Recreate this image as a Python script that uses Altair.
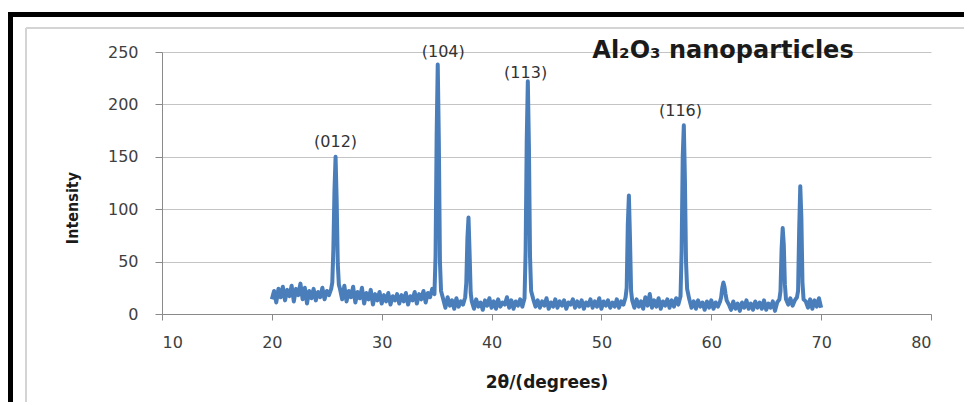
import altair as alt
import pandas as pd

# ---- data (2theta in degrees, intensity in counts) ----
# background segments: (start, step, values)
bg_20_254 = [14, 22, 11, 24, 16, 26, 13, 23, 17, 27, 12, 24, 18, 29, 14, 25, 10, 22, 15, 24,
             13, 21, 16, 25, 14, 22, 18, 24]
pk_012 = [30, 62, 118, 150, 108, 48, 28]
bg_262_348 = [24, 14, 27, 12, 22, 16, 26, 11, 21, 15, 25, 10, 20, 14, 23, 9, 19, 13, 21, 10,
              18, 12, 20, 9, 17, 13, 19, 10, 18, 12, 20, 9, 17, 13, 21, 10, 19, 14, 22, 11,
              20, 16, 24, 19]
pk_104 = [55, 170, 238, 165, 50, 22]
bg_356_376 = [14, 6, 16, 8, 13, 5, 15, 7, 12, 9, 16]
pk_110 = [30, 72, 92, 58, 20]
bg_382_430 = [12, 5, 14, 7, 11, 4, 13, 8, 15, 6, 12, 5, 14, 7, 11, 9, 16, 6, 13, 5, 12, 8, 14, 7, 15]
pk_113 = [60, 165, 222, 160, 55, 22]
bg_438_522 = [14, 7, 13, 6, 12, 8, 15, 5, 11, 7, 14, 6, 12, 8, 13, 5, 11, 9, 14, 6,
              12, 7, 13, 5, 11, 8, 14, 6, 12, 7, 15, 5, 12, 8, 13, 6, 11, 7, 14, 6, 12, 9, 16]
pk_024 = [25, 85, 113, 72, 22]
bg_528_572 = [13, 6, 14, 7, 12, 5, 16, 8, 19, 6, 13, 7, 15, 5, 12, 8, 14, 6, 13, 7, 15, 9, 17]
pk_116 = [60, 150, 180, 128, 50, 24]
bg_580_608 = [14, 6, 12, 5, 13, 7, 11, 4, 12, 6, 13, 5, 11, 7, 12]
pk_018 = [16, 25, 30, 26, 19, 13]
bg_616_662 = [9, 4, 12, 5, 10, 3, 11, 6, 13, 5, 10, 4, 12, 6, 11, 5, 13, 4, 10, 6, 12, 3, 11, 14]
pk_214 = [22, 62, 82, 66, 28, 14]
bg_670_678 = [9, 15, 8, 13, 16]
pk_300 = [22, 80, 122, 92, 30, 14]
bg_686_700 = [12, 6, 14, 5, 13, 7, 15, 6]

segments = [
    (20.0, 0.2, bg_20_254), (25.5, 0.1, pk_012), (26.2, 0.2, bg_262_348),
    (34.9, 0.1, pk_104), (35.6, 0.2, bg_356_376), (37.7, 0.1, pk_110),
    (38.2, 0.2, bg_382_430), (43.1, 0.1, pk_113), (43.8, 0.2, bg_438_522),
    (52.3, 0.1, pk_024), (52.8, 0.2, bg_528_572), (57.3, 0.1, pk_116),
    (58.0, 0.2, bg_580_608), (60.9, 0.1, pk_018), (61.6, 0.2, bg_616_662),
    (66.3, 0.1, pk_214), (67.0, 0.2, bg_670_678), (67.9, 0.1, pk_300),
    (68.6, 0.2, bg_686_700),
]

peak_labels = ["(012)", "(104)", "(113)", "(116)"]
label_x = [25.8, 35.6, 43.1, 57.2]
label_y = [164, 250, 230, 194]

x_ticks = [10, 20, 30, 40, 50, 60, 70, 80]
y_ticks = [0, 50, 100, 150, 200, 250]

rows = []
for start, step, vals in segments:
    for i, v in enumerate(vals):
        rows.append({"two_theta": round(start + i * step, 2), "intensity": v})
df = pd.DataFrame(rows)

lab_df = pd.DataFrame({"label": peak_labels, "x": label_x, "y": label_y})
one = pd.DataFrame({"a": [0]})

W, H = 769, 262
xs = alt.Scale(domain=[10, 80], nice=False, zero=False)
ys = alt.Scale(domain=[0, 250], nice=False)

line = alt.Chart(df).mark_line(color="#4a7ebb", strokeWidth=4, strokeJoin="round").encode(
    x=alt.X("two_theta:Q", scale=xs,
            axis=alt.Axis(values=x_ticks, grid=False, title="2θ/(degrees)",
                          tickSize=6, tickColor="#8a8a8a", domainColor="#8a8a8a",
                          labelFont="DejaVu Sans", labelFontSize=16, labelColor="#404040",
                          labelPadding=14,
                          titleFont="DejaVu Sans", titleFontSize=17, titleFontWeight="bold",
                          titleColor="#1a1a1a", titlePadding=24)),
    y=alt.Y("intensity:Q", scale=ys,
            axis=alt.Axis(values=y_ticks, grid=True, gridColor="#c4c4c4", title=None,
                          tickSize=7, tickColor="#8a8a8a", domainColor="#8a8a8a",
                          labelFont="DejaVu Sans", labelFontSize=16, labelColor="#404040",
                          labelPadding=17)),
)

labels = alt.Chart(lab_df).mark_text(font="DejaVu Sans", fontSize=16, color="#333333",
                                     baseline="middle").encode(
    x=alt.X("x:Q", scale=xs), y=alt.Y("y:Q", scale=ys), text="label:N")

title = alt.Chart(one).mark_text(text="Al₂O₃ nanoparticles", font="DejaVu Sans",
                                 fontSize=24, fontWeight="bold", color="#1a1a1a",
                                 baseline="alphabetic", align="center").encode(
    x=alt.value(561), y=alt.value(6))

ytitle = alt.Chart(one).mark_text(text="Intensity",
                                  font="DejaVu Sans Condensed",
                                  fontSize=16, fontWeight="bold", color="#1a1a1a", angle=270,
                                  baseline="middle", align="center").encode(
    x=alt.value(-89), y=alt.value(156))

frame_black_top = alt.Chart(one).mark_rule(color="black", strokeWidth=5).encode(
    x=alt.value(-154), x2=alt.value(W + 60), y=alt.value(-37.5))
frame_black_left = alt.Chart(one).mark_rule(color="black", strokeWidth=5).encode(
    x=alt.value(-151.5), y=alt.value(-40), y2=alt.value(H + 100))
frame_gray_top = alt.Chart(one).mark_rule(color="#d4d4d4", strokeWidth=2).encode(
    x=alt.value(-136), x2=alt.value(W + 60), y=alt.value(-24))
frame_gray_left = alt.Chart(one).mark_rule(color="#d4d4d4", strokeWidth=2).encode(
    x=alt.value(-136), y=alt.value(-24), y2=alt.value(H + 100))

chart = alt.layer(frame_black_top, frame_black_left, frame_gray_top, frame_gray_left,
                  line, labels, title, ytitle).properties(
    width=W, height=H,
    autosize=alt.AutoSizeParams(type="none"),
    padding={"left": 154, "top": 44, "right": 33, "bottom": 88},
    background="white",
).configure_view(stroke=None)

chart.save("out.html", embed_options={"renderer": "svg", "actions": False})
